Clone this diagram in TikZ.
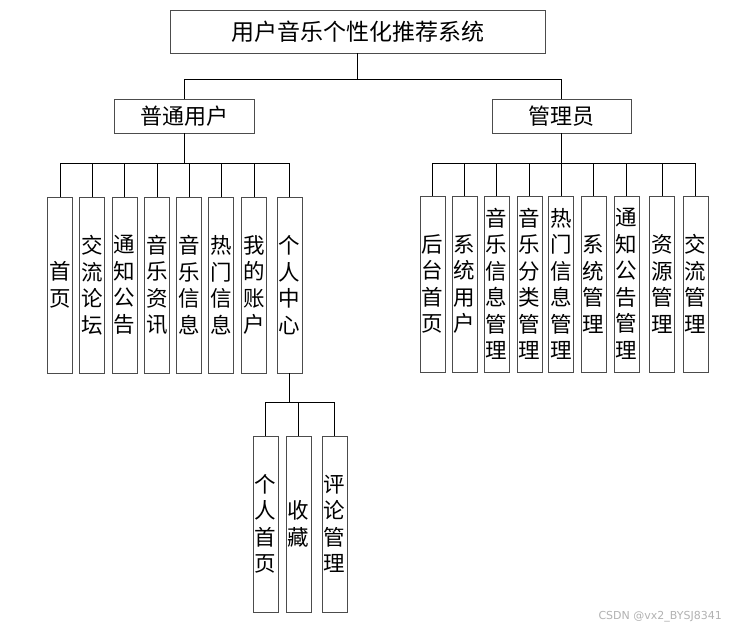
\documentclass[tikz,border=0pt]{standalone}
\usepackage{fontspec}
\setmainfont{Noto Sans CJK SC}
\begin{document}
\begin{tikzpicture}[x=1pt,y=-1pt,
  box/.style={draw=black!70,line width=0.9pt,inner sep=0pt,fill=white},
  wide/.style={box,font=\fontsize{22}{26}\selectfont},
  tall/.style={box,minimum width=25pt,minimum height=176pt,align=center,
    font=\fontsize{21.5}{26.5}\selectfont},
  link/.style={draw=black,line width=0.8pt}]
\useasboundingbox (0,0) rectangle (743,630);
% top levels
\node[wide,minimum width=375pt,minimum height=43pt,font=\fontsize{23}{26}\selectfont] (title) at (357.5,31.5) {用户音乐个性化推荐系统};
\node[wide,minimum width=140pt,minimum height=34pt] (pu) at (184,116) {普通用户};
\node[wide,minimum width=139pt,minimum height=34pt] (adm) at (561.5,116) {管理员};
\coordinate (bus0) at (357.5,79);
\coordinate (busL) at (184,163);
\coordinate (busR) at (561.5,163);
% user children
\node[tall] (u1) at (60,285) {首\\页};
\node[tall] (u2) at (92,285) {交\\流\\论\\坛};
\node[tall] (u3) at (124.5,285) {通\\知\\公\\告};
\node[tall] (u4) at (157,285) {音\\乐\\资\\讯};
\node[tall] (u5) at (189,285) {音\\乐\\信\\息};
\node[tall] (u6) at (221,285) {热\\门\\信\\息};
\node[tall] (u7) at (254,285) {我\\的\\账\\户};
\node[tall] (u8) at (289.5,285) {个\\人\\中\\心};
% admin children
\node[tall] (a1) at (432.5,284) {后\\台\\首\\页};
\node[tall] (a2) at (464.5,284) {系\\统\\用\\户};
\node[tall] (a3) at (496.5,284) {音\\乐\\信\\息\\管\\理};
\node[tall] (a4) at (529.5,284) {音\\乐\\分\\类\\管\\理};
\node[tall] (a5) at (561,284) {热\\门\\信\\息\\管\\理};
\node[tall] (a6) at (593.5,284) {系\\统\\管\\理};
\node[tall] (a7) at (626.5,284) {通\\知\\公\\告\\管\\理};
\node[tall] (a8) at (662,284) {资\\源\\管\\理};
\node[tall] (a9) at (695.5,284) {交\\流\\管\\理};
% personal center children
\coordinate (busP) at (289.5,402);
\node[tall] (p1) at (265.5,524) {个\\人\\首\\页};
\node[tall] (p2) at (298.5,524) {收\\藏};
\node[tall] (p3) at (334.5,524) {评\\论\\管\\理};
% connectors
\draw[link] (title.south) -- (bus0);
\draw[link] (bus0) -| (pu.north);
\draw[link] (bus0) -| (adm.north);
\draw[link] (pu.south) -- (busL);
\foreach \c in {u1,u2,u3,u4,u5,u6,u7,u8} \draw[link] (busL) -| (\c.north);
\draw[link] (adm.south) -- (busR);
\foreach \c in {a1,a2,a3,a4,a5,a6,a7,a8,a9} \draw[link] (busR) -| (\c.north);
\draw[link] (u8.south) -- (busP);
\foreach \c in {p1,p2,p3} \draw[link] (busP) -| (\c.north);
% watermark
\node[font=\fontsize{11}{12}\selectfont\fontspec{DejaVu Sans},text=black!30,anchor=east,inner sep=0pt] (wm) at (722,617) {CSDN @vx2\_BYSJ8341};
\end{tikzpicture}
\end{document}
